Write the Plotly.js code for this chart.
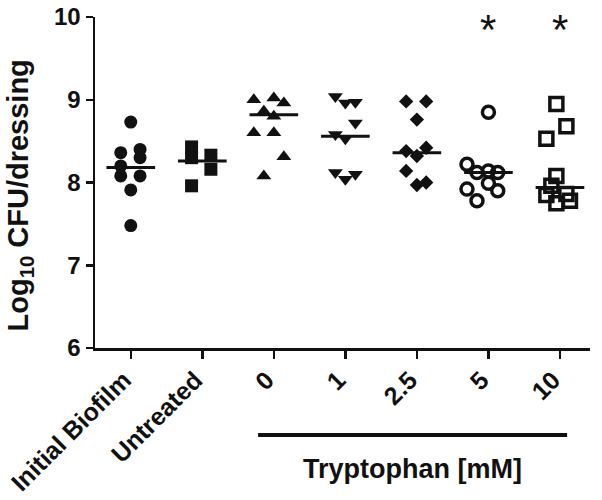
<!DOCTYPE html>
<html>
<head>
<meta charset="utf-8">
<script src="https://cdn.plot.ly/plotly-3.0.1.min.js"></script>
<style>html,body{margin:0;padding:0;background:#fff;}#chart{width:602px;height:500px;}</style>
</head>
<body>
<div id="chart"></div>
<script>
// Category labels (x axis)
const categories = ['Initial Biofilm', 'Untreated', '0', '1', '2.5', '5', '10'];

// Log10 CFU/dressing values, one array per group
const initialBiofilm = [8.73, 8.36, 8.40, 8.30, 8.20, 8.08, 8.08, 7.91, 7.48];
const untreated      = [8.43, 8.30, 8.33, 8.16, 7.96];
const trp0           = [9.00, 9.02, 8.96, 8.86, 8.80, 8.60, 8.60, 8.31, 8.08];
const trp1           = [9.04, 8.96, 8.97, 8.72, 8.58, 8.53, 8.12, 8.04, 8.10];
const trp2_5         = [8.98, 8.98, 8.76, 8.38, 8.32, 8.42, 8.14, 7.97, 8.00];
const trp5           = [8.85, 8.22, 8.12, 8.14, 8.12, 7.92, 7.99, 7.90, 7.78];
const trp10          = [8.95, 8.68, 8.53, 8.08, 7.96, 7.85, 7.86, 7.75, 7.78];

// Horizontal spread of points inside each column (category units)
const spreadInitial   = [0, -0.14, 0.13, 0.13, -0.14, -0.14, 0.13, 0, 0];
const spreadUntreated = [-0.15, -0.15, 0.12, 0.12, -0.15];
const spreadTrp0      = [-0.28, 0, 0.14, -0.14, 0, -0.28, 0, 0.14, -0.14];
const spreadTrp1      = [-0.14, 0, 0.14, 0.14, -0.14, 0, -0.14, 0, 0.14];
const spreadTrp2_5    = [-0.15, 0.13, 0, -0.15, 0, 0.13, -0.15, 0, 0.13];
const spreadTrp5      = [0, -0.3, -0.16, 0, 0.13, -0.3, 0, 0.13, -0.16];
const spreadTrp10     = [-0.05, 0.09, -0.19, -0.05, -0.12, -0.19, 0.09, -0.05, 0.14];

// Median lines
const medians = [8.18, 8.26, 8.82, 8.56, 8.36, 8.12, 7.94];

// Significance marks
const sigGroups = [5, 6];
const sigLevel = 9.94;

const groups = [
  {y: initialBiofilm, dx: spreadInitial,   symbol: 'circle',        size: 13, line: 0},
  {y: untreated,      dx: spreadUntreated, symbol: 'square',        size: 13, line: 0},
  {y: trp0,           dx: spreadTrp0,      symbol: 'triangle-up',   size: 13, line: 0},
  {y: trp1,           dx: spreadTrp1,      symbol: 'triangle-down', size: 13, line: 0},
  {y: trp2_5,         dx: spreadTrp2_5,    symbol: 'diamond',       size: 11, line: 0},
  {y: trp5,           dx: spreadTrp5,      symbol: 'circle-open',   size: 12, line: 3.5},
  {y: trp10,          dx: spreadTrp10,     symbol: 'square-open',   size: 13, line: 3.5}
];

const traces = groups.map((g, i) => ({
  type: 'scatter',
  mode: 'markers',
  x: g.y.map((_, k) => i + g.dx[k]),
  y: g.y,
  cliponaxis: false,
  marker: {
    symbol: g.symbol,
    size: g.size,
    color: '#111',
    line: {color: '#111', width: g.line}
  },
  hoverinfo: 'y',
  showlegend: false
}));

// median bars
const mx = [], my = [];
medians.forEach((m, i) => { mx.push(i - 0.34, i + 0.34, null); my.push(m, m, null); });
traces.push({
  type: 'scatter', mode: 'lines', x: mx, y: my,
  line: {color: '#111', width: 3}, hoverinfo: 'skip', showlegend: false
});

const font = 'Liberation Sans, Arial, Helvetica, sans-serif';

const layout = {
  width: 602, height: 500,
  margin: {l: 95, r: 12, t: 17, b: 152, pad: 0},
  paper_bgcolor: '#fff', plot_bgcolor: '#fff',
  showlegend: false,
  font: {family: font, color: '#111'},
  xaxis: {
    range: [-0.5, 6.42],
    tickmode: 'array',
    tickvals: categories.map((_, i) => i),
    ticktext: categories.map(c => '<b>' + c + '</b>'),
    tickangle: -45,
    tickfont: {family: font, size: 25, color: '#111'},
    ticklabelshift: -7,
    ticklabelstandoff: -3,
    ticks: 'outside', ticklen: 8, tickwidth: 2.5, tickcolor: '#111',
    showline: true, linewidth: 2.5, linecolor: '#111',
    showgrid: false, zeroline: false
  },
  yaxis: {
    range: [6, 10],
    tickvals: [6, 7, 8, 9, 10],
    ticktext: ['<b>6</b>', '<b>7</b>', '<b>8</b>', '<b>9</b>', '<b>10</b>'],
    tickfont: {family: font, size: 24, color: '#111'},
    ticks: 'outside', ticklen: 7, tickwidth: 2.5, tickcolor: '#111',
    showline: true, linewidth: 2.5, linecolor: '#111',
    showgrid: false, zeroline: false
  },
  shapes: [{
    type: 'line', xref: 'x', yref: 'paper',
    x0: 1.78, x1: 6.1, y0: -0.263, y1: -0.263,
    line: {color: '#111', width: 4}
  }],
  annotations: [
    {xref: 'paper', yref: 'paper', x: -0.152, y: 0.46, text: '<b>Log<sub>10</sub> CFU/dressing</b>', textangle: -90,
     showarrow: false, font: {family: font, size: 29, color: '#111'}, xanchor: 'center', yanchor: 'middle'},
    {xref: 'x', yref: 'paper', x: 3.94, y: -0.366, text: '<b>Tryptophan [mM]</b>', showarrow: false,
     font: {family: font, size: 27, color: '#111'}, xanchor: 'center', yanchor: 'middle'}
  ].concat(sigGroups.map(g => ({
    xref: 'x', yref: 'y', x: g, y: sigLevel, text: '*', showarrow: false,
    font: {family: font, size: 42, color: '#111'}, xanchor: 'center', yanchor: 'middle', yshift: -8
  })))
};

Plotly.newPlot('chart', traces, layout, {staticPlot: true, displayModeBar: false});
</script>
</body>
</html>
